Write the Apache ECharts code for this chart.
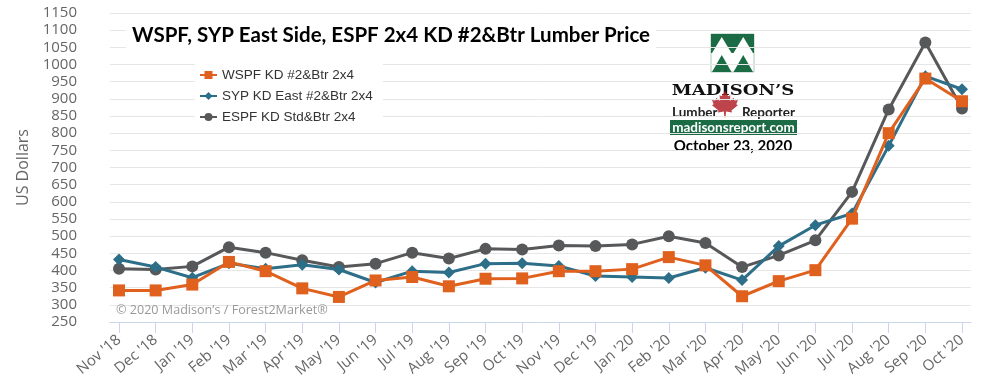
<!DOCTYPE html>
<html>
<head>
<meta charset="utf-8">
<script src="https://cdn.jsdelivr.net/npm/echarts@6/dist/echarts.min.js"></script>
<style>
html,body{margin:0;padding:0;background:#fff;}
#chart{width:1000px;height:381px;}
</style>
</head>
<body>
<div id="chart"></div>
<script>
const categories = ["Nov '18","Dec '18","Jan '19","Feb '19","Mar '19","Apr '19","May '19","Jun '19","Jul '19","Aug '19","Sep '19","Oct '19","Nov '19","Dec '19","Jan '20","Feb '20","Mar '20","Apr '20","May '20","Jun '20","Jul '20","Aug '20","Sep '20","Oct '20"];
const wspf = [342,342,359,425,398,348,323,371,381,354,376,377,398,398,404,439,415,325,369,401,551,800,959,893];
const syp  = [432,410,379,421,405,417,403,365,398,394,420,421,413,384,381,378,408,372,471,532,566,763,966,928];
const espf = [405,403,412,468,452,430,410,420,452,435,463,461,473,471,476,500,480,410,444,488,629,869,1064,872];
const seriesNames = ["WSPF KD #2&Btr 2x4","SYP KD East #2&Btr 2x4","ESPF KD Std&Btr 2x4"];
const titleText = "WSPF, SYP East Side, ESPF 2x4 KD #2&Btr Lumber Price";
const yMin = 250, yMax = 1150, yStep = 50;

const chart = echarts.init(document.getElementById('chart'), null, {renderer:'canvas'});

const leafPts = [[12,0],[15,5],[17,4],[16.5,9.5],[20,6.5],[21,9],[24,8.5],[22.5,12.5],[24,13.5],[18,18.5],[18.5,20.5],[13,19.5],[12.6,25],[11.4,25],[11,19.5],[5.5,20.5],[6,18.5],[0,13.5],[1.5,12.5],[0,8.5],[3,9],[4,6.5],[7.5,9.5],[7,4],[9,5]];
const leafShape = leafPts.map(p => [712 + p[0]*1.08, 91 + p[1]*1.05]);

const green = '#1B6B45';

const option = {
  backgroundColor: '#fff',
  animation: false,
  title: {
    text: titleText,
    left: 126, top: 23,
    padding: [2, 6],
    backgroundColor: '#fff',
    textStyle: {fontFamily: 'Lato', fontWeight: 'bold', fontSize: 20.5, color: '#000'}
  },
  legend: {
    orient: 'vertical',
    left: 195, top: 64,
    padding: [4, 10, 6, 4],
    backgroundColor: '#fff',
    itemWidth: 17, itemHeight: 10, itemGap: 7,
    textStyle: {fontFamily: 'Liberation Sans', fontSize: 13.5, color: '#333', lineHeight: 14},
    data: seriesNames
  },
  grid: [
    {left: 110, right: 29, top: 13, bottom: 59},
    {left: 119, right: 38, top: 13, bottom: 59}
  ],
  xAxis: [
    {type: 'value', gridIndex: 0, min: 0, max: 1, show: true,
     axisLine: {show: true, lineStyle: {color: '#ccd6eb', width: 1}},
     axisTick: {show: false}, axisLabel: {show: false}, splitLine: {show: false}},
    {type: 'category', gridIndex: 1, data: categories, boundaryGap: false,
     axisLine: {show: false},
     axisTick: {show: true, interval: 0, length: 11, lineStyle: {color: '#ccd6eb'}},
     axisLabel: {interval: 0, rotate: 40, margin: 16, fontFamily: 'Open Sans', fontSize: 15, color: '#666'},
     splitLine: {show: false}}
  ],
  yAxis: [
    {type: 'value', gridIndex: 0, min: yMin, max: yMax, interval: yStep,
     name: 'US Dollars', nameLocation: 'middle', nameGap: 65,
     nameTextStyle: {fontFamily: 'Open Sans', fontSize: 16, color: '#666'},
     axisLine: {show: false}, axisTick: {show: false},
     axisLabel: {margin: 33, fontFamily: 'Open Sans', fontSize: 15, color: '#666', formatter: v => String(v)},
     splitLine: {lineStyle: {color: '#e6e6e6', width: 1}}},
    {type: 'value', gridIndex: 1, min: yMin, max: yMax, interval: yStep, show: false,
     splitLine: {show: false}}
  ],
  series: [
    {name: seriesNames[0], type: 'line', xAxisIndex: 1, yAxisIndex: 1, data: wspf, z: 5,
     symbol: 'rect', symbolSize: 12, lineStyle: {width: 3, color: '#E0601E'},
     itemStyle: {color: '#E0601E'}},
    {name: seriesNames[1], type: 'line', xAxisIndex: 1, yAxisIndex: 1, data: syp, z: 4,
     symbol: 'diamond', symbolSize: 12, lineStyle: {width: 3, color: '#2D6E89'},
     itemStyle: {color: '#2D6E89'}},
    {name: seriesNames[2], type: 'line', xAxisIndex: 1, yAxisIndex: 1, data: espf, z: 3,
     symbol: 'circle', symbolSize: 12, lineStyle: {width: 3, color: '#57585A'},
     itemStyle: {color: '#57585A'}}
  ],
  graphic: [
    {type: 'text', x: 116, y: 310, z: 10,
     style: {text: '\u00A9 2020 Madison\u2019s / Forest2Market\u00AE', fontFamily: 'Open Sans', fontSize: 12.6, fill: '#999', verticalAlign: 'middle', align: 'left'}},
    {type: 'group', z: 10, children: [
      {type: 'rect', shape: {x: 668, y: 25, width: 130, height: 133}, style: {fill: '#fff'}},
      {type: 'rect', shape: {x: 711, y: 34, width: 43, height: 38}, style: {fill: '#fff', stroke: '#a9c9b6', lineWidth: 1}},
      {type: 'rect', shape: {x: 711, y: 34, width: 43, height: 19}, style: {fill: green}},
      {type: 'polygon', shape: {points: [[712,53],[721.75,37],[731.5,53]]}, style: {fill: '#fff'}},
      {type: 'polygon', shape: {points: [[733.5,53],[743.25,37],[753,53]]}, style: {fill: '#fff'}},
      {type: 'polygon', shape: {points: [[712,72],[721.75,55],[731.5,72]]}, style: {fill: green}},
      {type: 'polygon', shape: {points: [[733.5,72],[743.25,55],[753,72]]}, style: {fill: green}},
      {type: 'text', x: 733, y: 91, scaleX: 1.2, originX: 0,
       style: {text: 'MADISON\u2019S', fontFamily: 'DejaVu Serif', fontWeight: 'bold', fontSize: 15, fill: '#111', align: 'center', verticalAlign: 'middle'}},
      {type: 'text', x: 672, y: 113,
       style: {text: 'Lumber', fontFamily: 'Lato', fontWeight: 'bold', fontSize: 13.5, fill: '#222', align: 'left', verticalAlign: 'middle'}},
      {type: 'text', x: 795, y: 113,
       style: {text: 'Reporter', fontFamily: 'Lato', fontWeight: 'bold', fontSize: 13.5, fill: '#222', align: 'right', verticalAlign: 'middle'}},
      {type: 'polygon', shape: {points: leafShape}, style: {fill: '#B3232B', opacity: 0.85}},
      {type: 'rect', shape: {x: 670, y: 120, width: 127, height: 15}, style: {fill: green}},
      {type: 'text', x: 733.5, y: 127.5,
       style: {text: 'madisonsreport.com', fontFamily: 'Lato', fontWeight: 'bold', fontSize: 13.5, fill: '#fff', align: 'center', verticalAlign: 'middle'}},
      {type: 'text', x: 733, y: 146,
       style: {text: 'October 23, 2020', fontFamily: 'Lato', fontWeight: 'bold', fontSize: 15, fill: '#000', align: 'center', verticalAlign: 'middle'}}
    ]}
  ]
};
chart.setOption(option);
</script>
</body>
</html>
